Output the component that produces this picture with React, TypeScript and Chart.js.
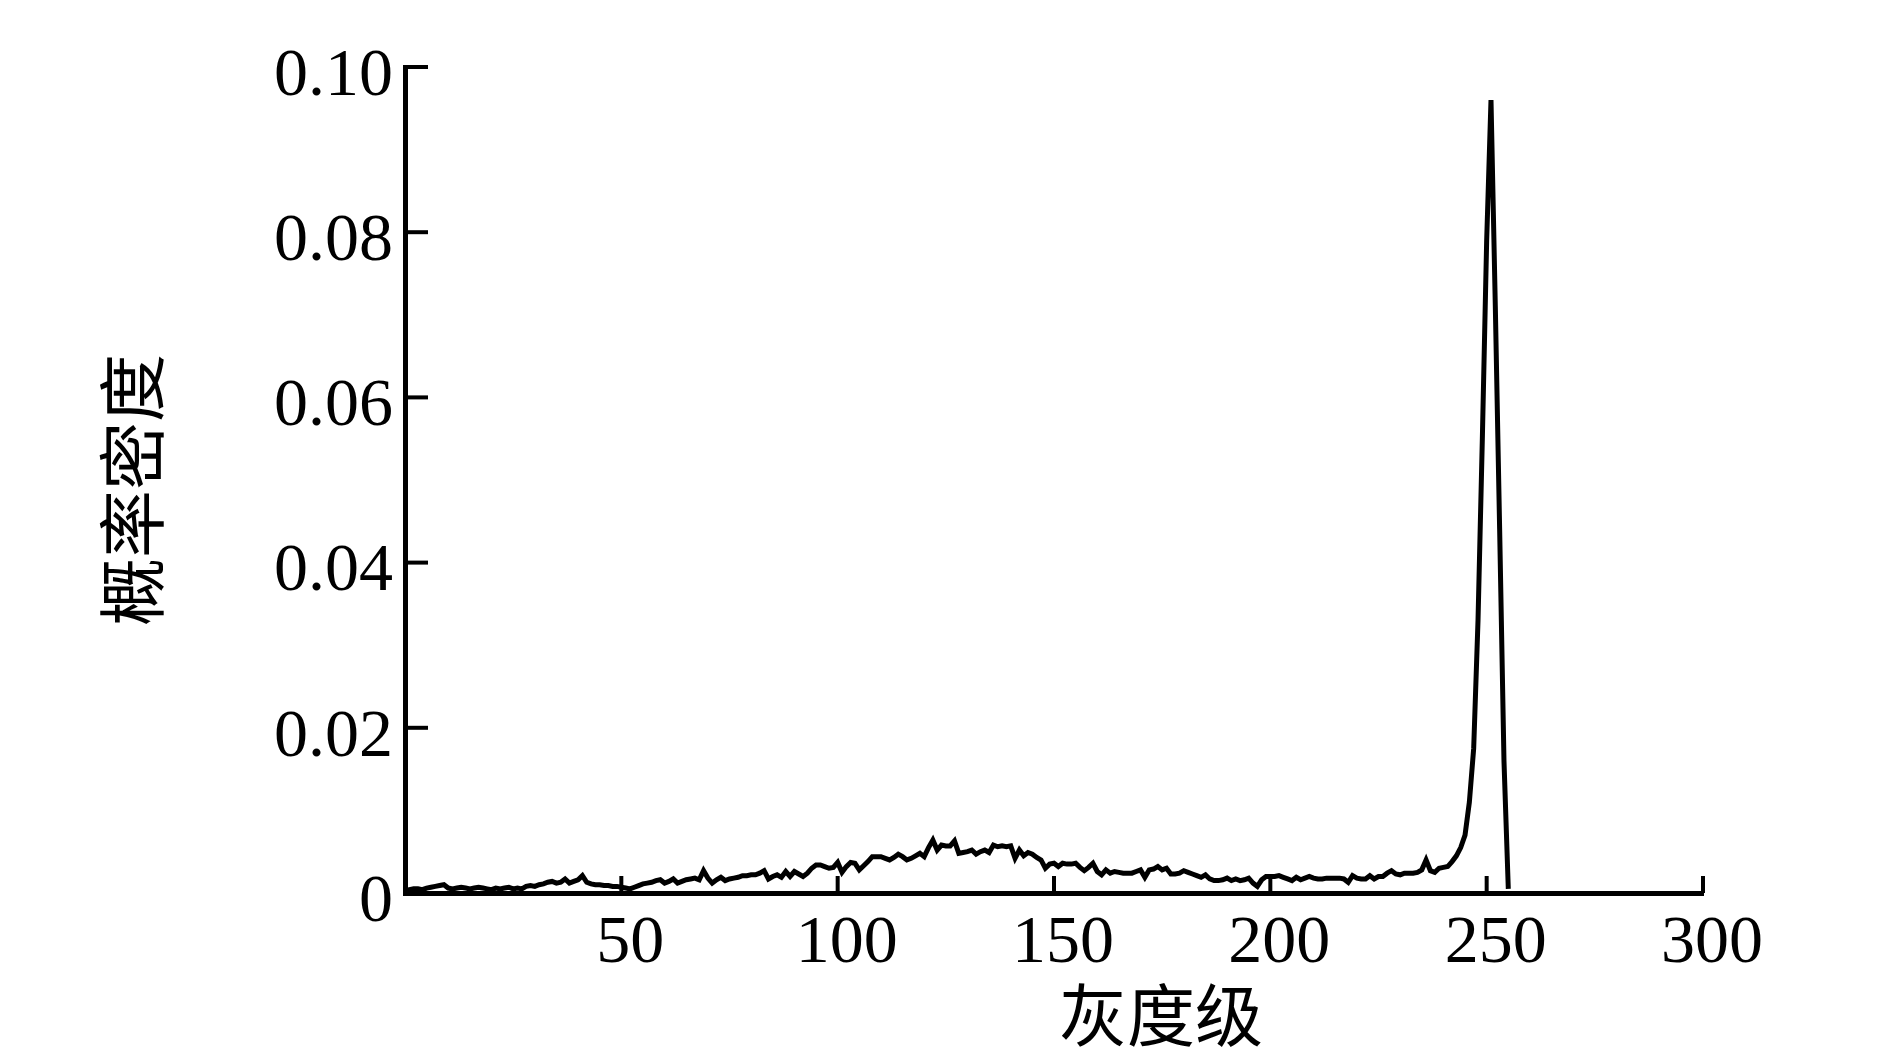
import React, { useEffect, useRef } from 'react';
import { Chart, registerables } from 'chart.js';

Chart.register(...registerables);

// Gray levels (x categories)
const grayLevels: number[] = Array.from({ length: 256 }, (_, i) => i);

// Probability density, one value per gray level
const probabilityDensity: number[] = [
  0.0003, 0.0004, 0.0005, 0.0005, 0.0004, 0.0006, 0.0007, 0.0008, 0.0009, 0.0010,
  0.0006, 0.0005, 0.0006, 0.0007, 0.0006, 0.0005, 0.0006, 0.0007, 0.0006, 0.0005,
  0.0004, 0.0006, 0.0005, 0.0006, 0.0007, 0.0005, 0.0006, 0.0005, 0.0008, 0.0009,
  0.0008, 0.0010, 0.0011, 0.0013, 0.0014, 0.0012, 0.0013, 0.0017, 0.0012, 0.0014,
  0.0016, 0.0021, 0.0013, 0.0011, 0.0010, 0.0010, 0.0009, 0.0009, 0.0008, 0.0008,
  0.0007, 0.0006, 0.0005, 0.0007, 0.0009, 0.0011, 0.0012, 0.0013, 0.0015, 0.0016,
  0.0012, 0.0014, 0.0017, 0.0012, 0.0014, 0.0016, 0.0017, 0.0018, 0.0016, 0.0027,
  0.0018, 0.0012, 0.0016, 0.0019, 0.0015, 0.0017, 0.0018, 0.0019, 0.0021, 0.0021,
  0.0022, 0.0022, 0.0024, 0.0027, 0.0017, 0.0020, 0.0022, 0.0019, 0.0026, 0.0020,
  0.0026, 0.0023, 0.0020, 0.0024, 0.0030, 0.0034, 0.0034, 0.0032, 0.0030, 0.0031,
  0.0037, 0.0025, 0.0032, 0.0037, 0.0036, 0.0028, 0.0033, 0.0038, 0.0044, 0.0044,
  0.0044, 0.0042, 0.0040, 0.0043, 0.0047, 0.0044, 0.0040, 0.0042, 0.0045, 0.0048,
  0.0044, 0.0055, 0.0064, 0.0052, 0.0058, 0.0057, 0.0057, 0.0063, 0.0048, 0.0049,
  0.0050, 0.0052, 0.0047, 0.0050, 0.0052, 0.0049, 0.0058, 0.0056, 0.0057, 0.0056,
  0.0057, 0.0042, 0.0052, 0.0045, 0.0049, 0.0047, 0.0043, 0.0040, 0.0030, 0.0035,
  0.0036, 0.0032, 0.0036, 0.0035, 0.0035, 0.0036, 0.0031, 0.0027, 0.0031, 0.0036,
  0.0026, 0.0022, 0.0028, 0.0024, 0.0026, 0.0025, 0.0024, 0.0024, 0.0024, 0.0026,
  0.0028, 0.0019, 0.0028, 0.0029, 0.0032, 0.0028, 0.0030, 0.0023, 0.0023, 0.0024,
  0.0027, 0.0025, 0.0023, 0.0021, 0.0019, 0.0022, 0.0017, 0.0015, 0.0015, 0.0016,
  0.0018, 0.0015, 0.0017, 0.0015, 0.0016, 0.0018, 0.0012, 0.0008, 0.0016, 0.0020,
  0.0020, 0.0020, 0.0021, 0.0019, 0.0017, 0.0015, 0.0019, 0.0016, 0.0018, 0.0020,
  0.0018, 0.0017, 0.0017, 0.0018, 0.0018, 0.0018, 0.0018, 0.0017, 0.0013, 0.0021,
  0.0018, 0.0017, 0.0017, 0.0021, 0.0017, 0.0020, 0.0020, 0.0024, 0.0027, 0.0023,
  0.0022, 0.0024, 0.0024, 0.0024, 0.0025, 0.0028, 0.0040, 0.0027, 0.0025, 0.0030,
  0.0031, 0.0032, 0.0038, 0.0045, 0.0055, 0.0070, 0.0110, 0.0175, 0.0330, 0.0550,
  0.0790, 0.0960, 0.0710, 0.0440, 0.0160, 0.0005,
];

const xMin = 0;
const xMax = 300;
const xStep = 50;
const yMin = 0;
const yMax = 0.1;
const yStep = 0.02;
const yTickLabels: string[] = ['0', '0.02', '0.04', '0.06', '0.08', '0.10'];
const xAxisTitle = '灰度级';
const yAxisTitle = '概率密度';

const TICK_FONT = '"Liberation Serif", "Times New Roman", serif';
const CJK_FONT = '"Noto Sans CJK SC", sans-serif';

const axisDecor = {
  id: 'axisDecor',
  afterDraw(chart: any) {
    const { ctx, chartArea, scales } = chart;
    const xs = scales.x;
    const ys = scales.y;
    ctx.save();
    ctx.strokeStyle = '#000';
    ctx.lineWidth = 4;
    ctx.lineCap = 'butt';
    ys.ticks.forEach((t: any) => {
      const py = ys.getPixelForValue(t.value);
      ctx.beginPath();
      ctx.moveTo(chartArea.left, py);
      ctx.lineTo(chartArea.left + 23, py);
      ctx.stroke();
    });
    xs.ticks.forEach((t: any) => {
      if (t.value === 0) return;
      const px = xs.getPixelForValue(t.value);
      ctx.beginPath();
      ctx.moveTo(px, chartArea.bottom);
      ctx.lineTo(px, chartArea.bottom - 17);
      ctx.stroke();
    });
    ctx.fillStyle = '#000';
    ctx.font = `68px ${CJK_FONT}`;
    ctx.textAlign = 'center';
    ctx.textBaseline = 'middle';
    const xtX = chartArea.left + (chartArea.right - chartArea.left) * 0.5825;
    ctx.fillText(xAxisTitle, xtX, chartArea.bottom + 122);
    ctx.translate(chartArea.left - 273, (chartArea.top + chartArea.bottom) / 2 + 10);
    ctx.rotate(-Math.PI / 2);
    ctx.fillText(yAxisTitle, 0, 0);
    ctx.restore();
  },
};

export default function App() {
  const canvasRef = useRef<HTMLCanvasElement | null>(null);

  useEffect(() => {
    if (!canvasRef.current) return;
    const chart = new Chart(canvasRef.current, {
      type: 'line',
      data: {
        datasets: [
          {
            data: grayLevels.map((g, i) => ({ x: g, y: probabilityDensity[i] })),
            borderColor: '#000',
            borderWidth: 5,
            pointRadius: 0,
            tension: 0,
            fill: false,
            borderJoinStyle: 'miter',
          },
        ],
      },
      options: {
        animation: false,
        responsive: false,
        devicePixelRatio: 1,
        layout: { padding: { top: 67, right: 183, bottom: 0, left: 0 } },
        plugins: { legend: { display: false }, tooltip: { enabled: false } },
        scales: {
          x: {
            type: 'linear',
            min: xMin,
            max: xMax,
            afterFit: (s: any) => {
              s.height = 169;
            },
            grid: { display: true, drawOnChartArea: false, drawTicks: false },
            border: { display: true, color: '#000', width: 5 },
            ticks: {
              stepSize: xStep,
              autoSkip: false,
              maxRotation: 0,
              padding: 10,
              labelOffset: 9,
              color: '#000',
              font: { family: TICK_FONT, size: 68 },
              callback: (v: any) => (v === 0 ? '' : String(v)),
            },
          },
          y: {
            type: 'linear',
            min: yMin,
            max: yMax,
            afterFit: (s: any) => {
              s.width = 405;
            },
            grid: { display: true, drawOnChartArea: false, drawTicks: false },
            border: { display: true, color: '#000', width: 5 },
            ticks: {
              stepSize: yStep,
              autoSkip: false,
              padding: 12,
              labelOffset: 10,
              color: '#000',
              font: { family: TICK_FONT, size: 68 },
              callback: (v: any) => yTickLabels[Math.round(Number(v) / yStep)] ?? '',
            },
          },
        },
      },
      plugins: [axisDecor],
    } as any);
    return () => chart.destroy();
  }, []);

  return (
    <div style={{ position: 'fixed', left: 0, top: 0, width: 1886, height: 1062, background: '#fff' }}>
      <canvas ref={canvasRef} width={1886} height={1062} />
    </div>
  );
}
